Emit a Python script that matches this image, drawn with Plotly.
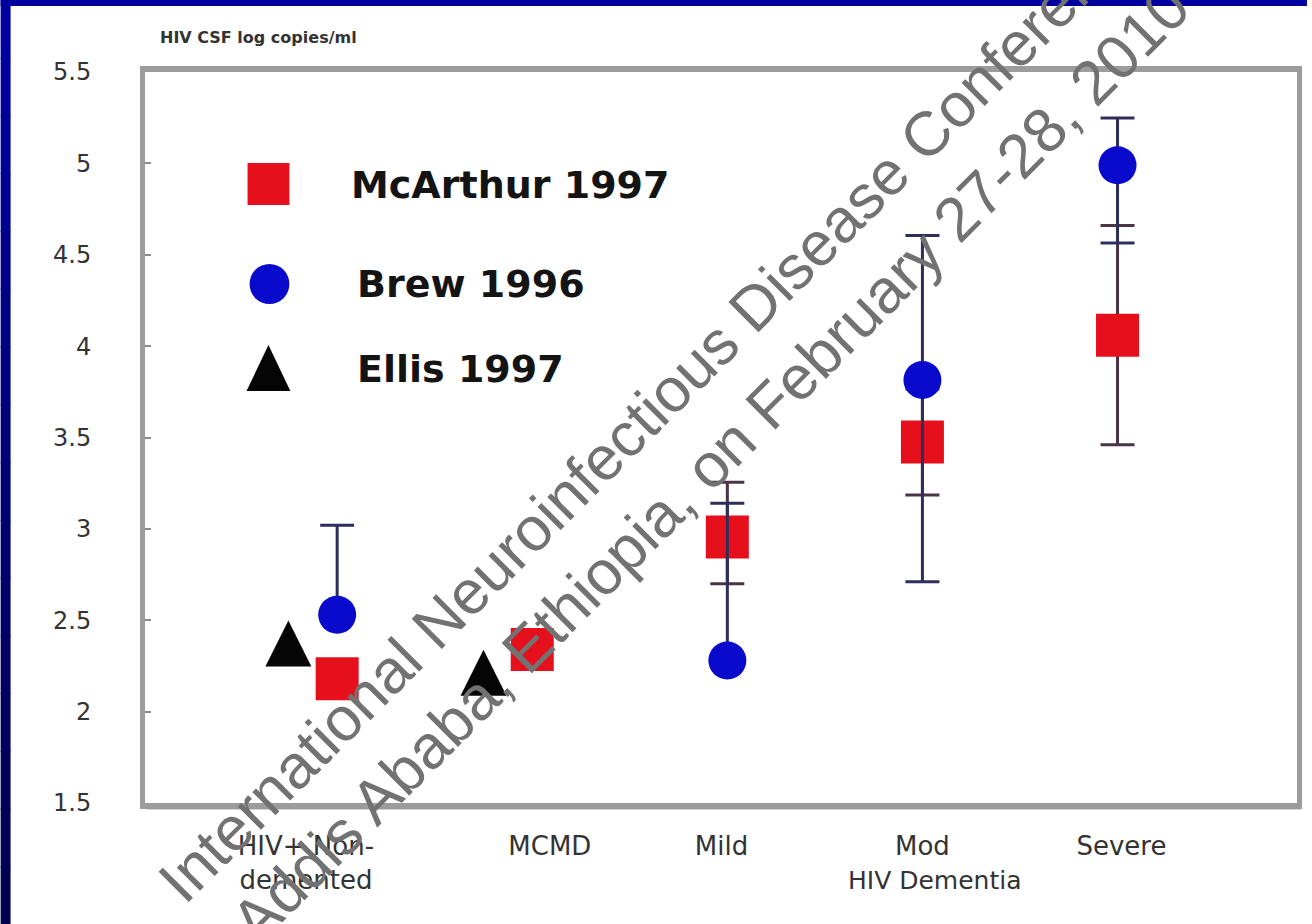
import plotly.graph_objects as go

# ---------------- data ----------------
categories = ["HIV+ Non-<br>demented", "MCMD", "Mild", "Mod", "Severe"]
cat_pos = [0, 1, 2, 3, 4]
label_pos = [-0.16, 1.09, 1.97, 3.0, 4.02]

mcarthur_x = [0, 1, 2, 3, 4]
mcarthur_y = [2.18, 2.34, 2.955, 3.475, 4.06]
mcarthur_plus = [None, None, 0.30, 0.29, 0.60]
mcarthur_minus = [None, None, 0.255, 0.29, 0.60]

brew_x = [0, 2, 3, 4]
brew_y = [2.53, 2.28, 3.815, 4.99]
brew_plus = [0.49, 0.86, 0.79, 0.258]
brew_minus = [0, 0, 1.105, 0.426]

ellis_x = [0, 1]
ellis_y = [2.33, 2.17]
ellis_offset = -0.25

y_ticks = [1.5, 2, 2.5, 3, 3.5, 4, 4.5, 5, 5.5]
y_ticktext = ["1.5", "2", "2.5", "3", "3.5", "4", "4.5", "5", "5.5"]

legend_names = ["McArthur 1997", "Brew 1996", "Ellis 1997"]
y_title = "HIV CSF log copies/ml"
x_group_label = "HIV Dementia"
watermark = ("International Neuroinfectious Disease Conference<br>"
             "Addis Ababa, Ethiopia, on February 27-28, 2010")

# ---------------- layout helpers ----------------
W, H = 1312, 924
L, R, T, B = 145, 1302, 72, 803


def px(x):
    return (x - L) / (R - L)


def py(y):
    return (B - y) / (B - T)


RED = "#e5101c"
BLUE = "#0a0acc"
BLACK = "#050505"
TXT = "#333333"

fig = go.Figure()

fig.add_trace(go.Scatter(
    x=mcarthur_x, y=mcarthur_y, mode="markers", name=legend_names[0],
    marker=dict(symbol="square", size=43, color=RED),
    error_y=dict(type="data", symmetric=False, array=mcarthur_plus,
                 arrayminus=mcarthur_minus, color="#4a3445", thickness=3, width=17),
    showlegend=False))

fig.add_trace(go.Scatter(
    x=brew_x, y=brew_y, mode="markers", name=legend_names[1],
    marker=dict(symbol="circle", size=38, color=BLUE),
    error_y=dict(type="data", symmetric=False, array=brew_plus,
                 arrayminus=brew_minus, color="#2e2e5c", thickness=3, width=17),
    showlegend=False))

fig.add_trace(go.Scatter(
    x=[v + ellis_offset for v in ellis_x], y=ellis_y, mode="markers",
    name=legend_names[2],
    marker=dict(symbol="arrow-down", angle=180, size=46, standoff=30.7,
                color=BLACK),
    showlegend=False))

shapes = []
# navy slide border (left strip with gradient, top strip)
n_seg = 16
c_top = (0, 0, 160)
c_bot = (0, 0, 80)
for i in range(n_seg):
    t = i / (n_seg - 1)
    col = "rgb(%d,%d,%d)" % tuple(int(a + (b - a) * t) for a, b in zip(c_top, c_bot))
    shapes.append(dict(type="rect", xref="paper", yref="paper",
                       x0=px(0), x1=px(10),
                       y0=py(H * (i + 1) / n_seg + 1), y1=py(H * i / n_seg),
                       fillcolor=col, line=dict(width=0), layer="above"))
shapes.append(dict(type="rect", xref="paper", yref="paper",
                   x0=px(0), x1=px(W), y0=py(6), y1=py(0),
                   fillcolor="rgb(0,0,158)", line=dict(width=0), layer="above"))
# bottom / right shadow of the frame
shapes.append(dict(type="line", xref="paper", yref="paper",
                   x0=px(147), x1=px(1306), y0=py(807), y1=py(807),
                   line=dict(color="#a8a8a8", width=5), layer="below"))
shapes.append(dict(type="line", xref="paper", yref="paper",
                   x0=px(1305), x1=px(1305), y0=py(74), y1=py(809),
                   line=dict(color="#a8a8a8", width=4), layer="below"))

# legend symbols
shapes.append(dict(type="rect", xref="paper", yref="paper",
                   x0=px(248), x1=px(290), y0=py(205), y1=py(163),
                   fillcolor=RED, line=dict(width=0)))
shapes.append(dict(type="circle", xref="paper", yref="paper",
                   x0=px(250), x1=px(290), y0=py(304), y1=py(264),
                   fillcolor=BLUE, line=dict(width=0)))
shapes.append(dict(type="path", xref="paper", yref="paper",
                   path="M %f,%f L %f,%f L %f,%f Z" % (px(269), py(345), px(247), py(391),
                                                      px(291), py(391)),
                   fillcolor=BLACK, line=dict(width=0)))

annotations = []
leg_y = [185, 284, 369]
leg_x = [350, 356, 356]
for name, lx, ly in zip(legend_names, leg_x, leg_y):
    annotations.append(dict(xref="paper", yref="paper", x=px(lx), y=py(ly),
                            text=name, showarrow=False, xanchor="left",
                            yanchor="middle",
                            font=dict(family="DejaVu Sans", size=38,
                                      color="#141414", weight="bold")))

annotations.append(dict(xref="paper", yref="paper", x=px(158), y=py(37),
                        text=y_title, showarrow=False, xanchor="left",
                        yanchor="middle",
                        font=dict(family="DejaVu Sans", size=16, color=TXT,
                                  weight="bold")))
annotations.append(dict(xref="paper", yref="paper", x=px(938), y=py(881),
                        text=x_group_label, showarrow=False, xanchor="center",
                        yanchor="middle",
                        font=dict(family="DejaVu Sans", size=25, color=TXT)))
annotations.append(dict(xref="paper", yref="paper", x=px(684), y=py(436),
                        text=watermark, showarrow=False, xanchor="center",
                        yanchor="middle", textangle=-45, align="center",
                        font=dict(family="Liberation Sans", size=62,
                                  color="#727272")))

fig.update_layout(
    width=W, height=H, autosize=False,
    margin=dict(l=L, r=W - R, t=T, b=H - B, pad=0),
    paper_bgcolor="white", plot_bgcolor="white",
    showlegend=False,
    shapes=shapes, annotations=annotations,
    xaxis=dict(range=[-0.985, 4.92], tickvals=label_pos, ticktext=categories,
               showgrid=False, zeroline=False, showline=True, mirror=True,
               linecolor="#9c9c9c", linewidth=6, ticks="",
               ticklabelstandoff=15,
               tickfont=dict(family="DejaVu Sans", size=26, color=TXT)),
    yaxis=dict(range=[1.5, 5.5], tickvals=y_ticks, ticktext=y_ticktext,
               showgrid=False, zeroline=False, showline=True, mirror=True,
               linecolor="#9c9c9c", linewidth=5, ticks="inside", ticklen=6,
               tickcolor="#8a8a8a", tickwidth=2, ticklabelstandoff=44,
               tickfont=dict(family="DejaVu Sans", size=24, color=TXT)),
)

fig.write_html("out.html")
